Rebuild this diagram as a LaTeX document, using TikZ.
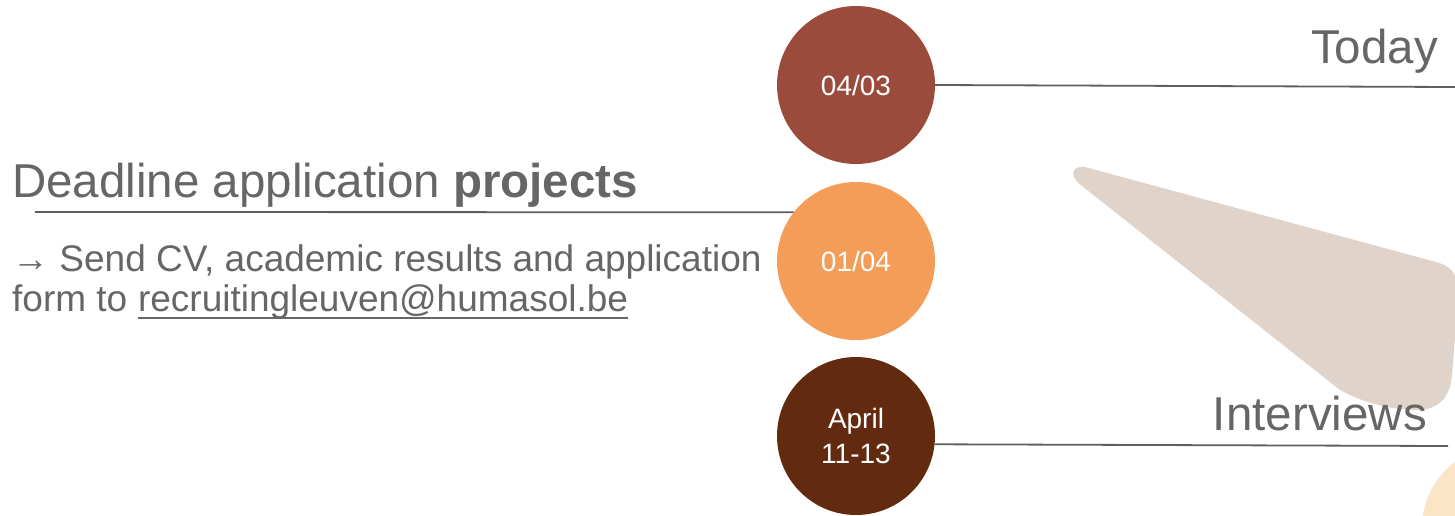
\documentclass[tikz,border=0pt]{standalone}
\usepackage{fontspec}
\setmainfont{Liberation Sans}
\definecolor{txt}{HTML}{666666}
\definecolor{ln}{HTML}{5F5F5F}
\definecolor{cA}{HTML}{9A4B3C}
\definecolor{cB}{HTML}{F39D58}
\definecolor{cC}{HTML}{622B0F}
\definecolor{blob}{HTML}{E0D3C9}
\definecolor{peach}{HTML}{FCE5C6}
\begin{document}
\begin{tikzpicture}[x=1pt,y=-1pt,
  dot/.style={circle,minimum size=158pt,inner sep=0pt,text=white,font=\fontsize{28}{35}\selectfont,align=center},
  conn/.style={draw=ln,line width=1.8pt},
  head/.style={text=txt,inner sep=0pt,font=\fontsize{47.5}{56}\selectfont},
  body/.style={text=txt,inner sep=0pt,font=\fontsize{37}{41}\selectfont}]
\useasboundingbox (0,0) rectangle (1455,515);
% background shapes
\fill[blob] (1085,167) -- (1436,262) .. controls (1458,268) and (1459,282) .. (1458,300) -- (1452,375) .. controls (1450,400) and (1436,412) .. (1410,410) .. controls (1385,408) and (1362,402) .. (1340,390) -- (1082,186) .. controls (1070,178) and (1070,165) .. (1085,167) -- cycle;
\fill[peach] (1505,528) circle[radius=83];
% circles
\node[dot,fill=cA] (c1) at (856,85) {04/03};
\node[dot,fill=cB] (c2) at (856,261) {01/04};
\node[dot,fill=cC] (c3) at (856,436) {April\\[0pt]11-13};
% texts
\node[head,anchor=base east] (today) at (1438,63) {Today};
\node[head,anchor=base east] (interv) at (1427,430) {Interviews};
\node[head,anchor=base west] (dead) at (12,197) {Deadline application \textbf{projects}};
\node[body,anchor=base west] (send) at (12,271) {→ Send CV, academic results and application};
\node[body,anchor=base west] (form) at (12,311) {form to};
\node[body,anchor=base west] (mail) at ([xshift=10.3pt]form.base east) {recruitingleuven@humasol.be};
\draw[draw=txt,line width=1.8pt] ([yshift=-7pt]mail.base west) -- ([yshift=-7pt]mail.base east);
% connectors
\coordinate (t2) at (1455,87);
\coordinate (i2) at (1448,446);
\coordinate (d1) at (35,212);
\draw[conn] (c1.east) -- (t2);
\draw[conn] (c3.-6) -- (i2);
\draw[conn] (d1) -- (c2.142);
\end{tikzpicture}
\end{document}
